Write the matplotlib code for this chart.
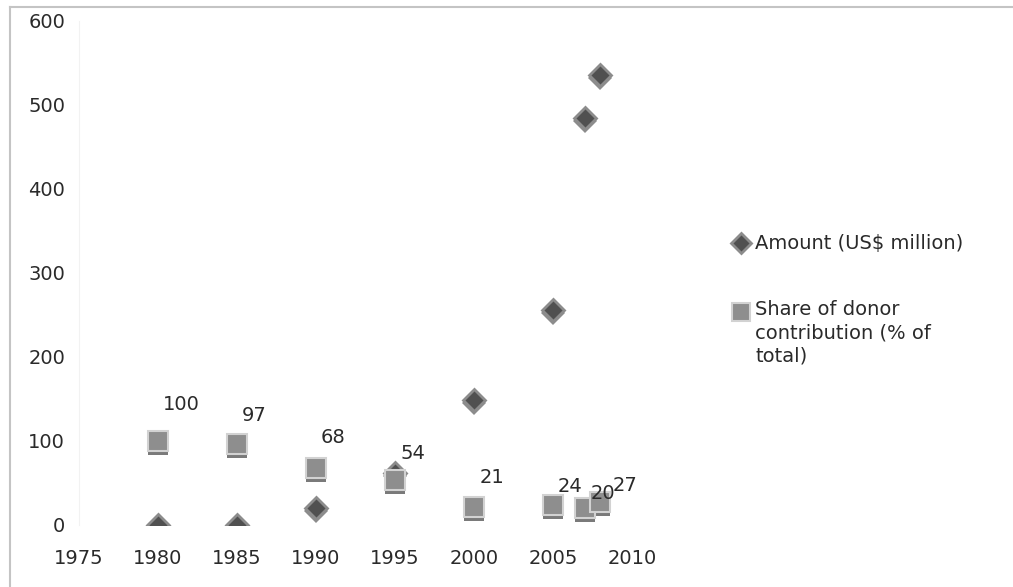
import numpy as np
import matplotlib
matplotlib.use("Agg")
import matplotlib.pyplot as plt
from matplotlib.lines import Line2D
from matplotlib.transforms import offset_copy

# data
years = [1980, 1985, 1990, 1995, 2000, 2005, 2007, 2008]
amount = [0, 0, 20, 62, 149, 256, 485, 536]          # US$ million
share = [100, 97, 68, 54, 21, 24, 20, 27]            # % of total
share_labels = ["100", "97", "68", "54", "21", "24", "20", "27"]

x_ticks = [1975, 1980, 1985, 1990, 1995, 2000, 2005, 2010]
y_ticks = [0, 100, 200, 300, 400, 500, 600]

# label offsets in pixels (right, up) for the share values
label_offsets = [(23, 36), (17, 28), (17, 30), (18, 26), (18, 30), (17, 18), (18, 15), (25, 17)]

TEXT = "#2a2a2a"
DIAMOND_FACE = "#505050"
DIAMOND_EDGE = "#8c8c8c"
SQUARE_FACE = "#8e8e8e"
SQUARE_EDGE = "#d2d2d2"
SQUARE_SHADOW = "#7a7a7a"

plt.rcParams["font.family"] = ["DejaVu Sans"]

W, H = 1013, 587
fig = plt.figure(figsize=(W / 100, H / 100), dpi=100)
ax = fig.add_axes([79 / W, 1 - 525 / H, (632 - 79) / W, (525 - 21) / H])

ax.set_xlim(1975, 2010)
ax.set_ylim(0, 600)
ax.set_xticks(x_ticks)
ax.set_yticks(y_ticks)
ax.tick_params(length=0, labelsize=14, labelcolor=TEXT)
ax.tick_params(axis="y", pad=10)
ax.tick_params(axis="x", pad=17)
for side in ["top", "right", "bottom"]:
    ax.spines[side].set_visible(False)
ax.spines["left"].set_color("#f2f2f2")
ax.patch.set_alpha(0)

shadow = offset_copy(ax.transData, fig=fig, x=0, y=-3, units="dots")
sq_shadow = offset_copy(ax.transData, fig=fig, x=0, y=-4, units="dots")

# amount: diamonds with a lighter shadow underneath
ax.plot(years, amount, linestyle="none", marker="D", markersize=12,
        color=DIAMOND_EDGE, markeredgewidth=0, transform=shadow, zorder=3)
ax.plot(years, amount, linestyle="none", marker="D", markersize=11,
        markerfacecolor=DIAMOND_FACE, markeredgecolor=DIAMOND_EDGE,
        markeredgewidth=2, zorder=4)

# share: squares with a darker bottom edge
ax.plot(years, share, linestyle="none", marker="s", markersize=14,
        color=SQUARE_SHADOW, markeredgewidth=0, transform=sq_shadow, zorder=5)
ax.plot(years, share, linestyle="none", marker="s", markersize=14,
        markerfacecolor=SQUARE_FACE, markeredgecolor=SQUARE_EDGE,
        markeredgewidth=1.5, zorder=6)

for yr, val, lab, off in zip(years, share, share_labels, label_offsets):
    ax.annotate(lab, (yr, val), xytext=off, textcoords="offset pixels",
                ha="center", va="center", fontsize=14, color=TEXT, zorder=7)

# chart border (cut off at right and bottom)
fig.add_artist(Line2D([10 / W, 10 / W], [0, 1 - 7 / H], color="#c4c4c4", lw=1.5))
fig.add_artist(Line2D([10 / W, 1], [1 - 7 / H, 1 - 7 / H], color="#c4c4c4", lw=1.5))

# legend drawn by hand
lx, tx = 741 / W, 755 / W
y1, y2 = 1 - 243 / H, 1 - 312 / H
fig.add_artist(Line2D([lx], [y1], linestyle="none", marker="D", markersize=10,
                      markerfacecolor=DIAMOND_FACE, markeredgecolor=DIAMOND_EDGE,
                      markeredgewidth=2))
fig.text(tx, y1, "Amount (US$ million)", fontsize=14, color=TEXT, va="center")
fig.add_artist(Line2D([lx], [y2], linestyle="none", marker="s", markersize=13,
                      markerfacecolor=SQUARE_FACE, markeredgecolor=SQUARE_EDGE,
                      markeredgewidth=1.5))
fig.text(tx, 1 - 300 / H, "Share of donor\ncontribution (% of\ntotal)", fontsize=14,
         color=TEXT, va="top", linespacing=1.3)

fig.savefig("out.png", dpi=100)
